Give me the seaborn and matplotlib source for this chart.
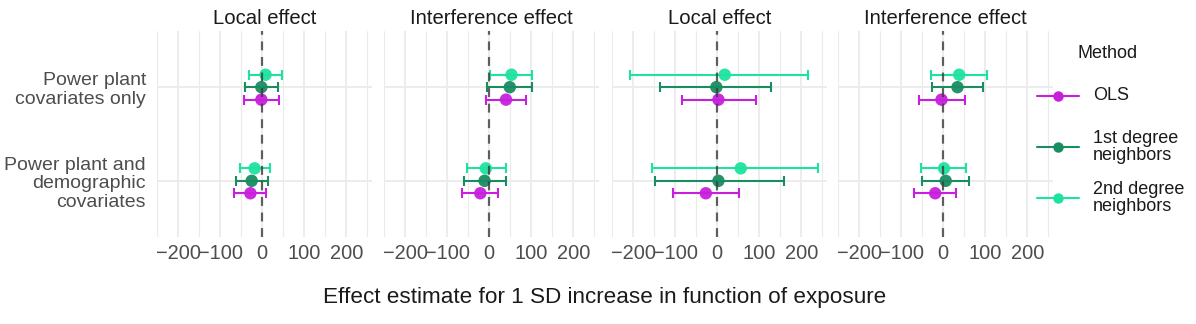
import matplotlib
matplotlib.use('Agg')
import numpy as np
import pandas as pd
import matplotlib.pyplot as plt
import seaborn as sns

# Данные (оценки по картинке)
panels = ['Local effect', 'Interference effect', 'Local effect', 'Interference effect']
models = ['Power plant\ncovariates only', 'Power plant and\ndemographic\ncovariates']
methods = ['OLS', '1st degree\nneighbors', '2nd degree\nneighbors']

# порядок: панель -> модель -> метод (OLS, 1st, 2nd)
est = [
    [[-2, -2, 8], [-28, -25, -18]],
    [[40, 49, 53], [-21, -11, -8]],
    [[3, -2, 18], [-27, 3, 56]],
    [[-4, 34, 38], [-19, 6, 2]],
]
lower = [
    [[-43, -42, -32], [-66, -62, -53]],
    [[-8, -6, 2], [-64, -60, -53]],
    [[-84, -137, -208], [-105, -147, -155]],
    [[-58, -27, -28], [-69, -50, -53]],
]
upper = [
    [[41, 38, 46], [9, 13, 19]],
    [[87, 102, 101], [22, 40, 41]],
    [[92, 129, 217], [53, 159, 239]],
    [[52, 95, 103], [31, 62, 55]],
]

colors = ['#C81FDD', '#1A8C62', '#1DE39E']

rows = []
for p in range(4):
    for m in range(2):
        for k in range(3):
            rows.append({'panel': p, 'model': m, 'method': methods[k],
                         'est': est[p][m][k], 'lo': lower[p][m][k], 'hi': upper[p][m][k]})
df = pd.DataFrame(rows)
offsets = {methods[0]: 0.133, methods[1]: 0.0, methods[2]: -0.133}
df['ypos'] = df['model'] + df['method'].map(offsets)

sns.set_theme(style='white')
plt.rcParams['font.family'] = ['Liberation Sans', 'DejaVu Sans']

W, H = 1196, 324
fig = plt.figure(figsize=(W / 100, H / 100), dpi=100)

lefts = [157, 384, 612, 838]
pw = 215
top, bottom = 31, 237

for p in range(4):
    ax = fig.add_axes([lefts[p] / W, 1 - bottom / H, pw / W, (bottom - top) / H])
    sub = df[df['panel'] == p]

    for k, meth in enumerate(methods):
        s = sub[sub['method'] == meth]
        ax.errorbar(s['est'], s['ypos'], xerr=[s['est'] - s['lo'], s['hi'] - s['est']],
                    fmt='none', ecolor=colors[k], elinewidth=1.5, capsize=3.5,
                    capthick=1.5, zorder=3)
    sns.scatterplot(data=sub, x='est', y='ypos', hue='method', hue_order=methods,
                    palette=colors, s=80, edgecolor='none', alpha=0.95,
                    legend=False, ax=ax, zorder=4)

    ax.axvline(0, color='#3a3a3a', lw=1.6, ls=(0, (4, 3)), alpha=0.8, zorder=5)

    ax.set_xlim(-231, 261)
    ax.set_ylim(1.6, -0.6)
    ax.set_xticks([-200, -100, 0, 100, 200])
    ax.set_xticklabels(['\u2212200', '\u2212100', '0', '100', '200'])
    ax.set_xticks([-250, -150, -50, 50, 150, 250], minor=True)
    ax.set_yticks([0, 1])
    if p == 0:
        ax.set_yticklabels(models, fontsize=14, color='#4D4D4D', ha='right',
                           linespacing=1.12)
    else:
        ax.set_yticklabels([])
    ax.grid(which='major', color='#EBEBEB', lw=1.3, zorder=0)
    ax.grid(which='minor', axis='x', color='#EBEBEB', lw=0.8, zorder=0)
    ax.set_axisbelow(True)
    ax.tick_params(axis='x', labelsize=14.4, labelcolor='#4D4D4D', length=0, pad=5)
    ax.tick_params(axis='y', length=0, pad=8)
    for sp in ax.spines.values():
        sp.set_visible(False)
    ax.set_xlabel('')
    ax.set_ylabel('')
    ax.set_title(panels[p], fontsize=14.6, color='#1A1A1A', pad=5)

fig.text(605 / W, 1 - 298 / H, 'Effect estimate for 1 SD increase in function of exposure',
         ha='center', va='center', fontsize=16.2, color='#1A1A1A')

# легенда вручную: ключи одинаковой высоты, как в ggplot
lg = fig.add_axes([0, 0, 1, 1], facecolor='none')
lg.set_xlim(0, W)
lg.set_ylim(H, 0)
lg.axis('off')
lg.text(1108, 53, 'Method', ha='center', va='center', fontsize=13, color='#1A1A1A')
key_y = [96, 147, 198]
for k, meth in enumerate(methods):
    lg.plot([1037, 1079], [key_y[k]] * 2, color=colors[k], lw=1.5)
    lg.plot([1058], [key_y[k]], marker='o', ms=7.5, color=colors[k], mec='none')
    lg.text(1093, key_y[k], meth, ha='left', va='center', fontsize=13,
            color='#1A1A1A', linespacing=1.05)

fig.savefig('out.png', dpi=100)
